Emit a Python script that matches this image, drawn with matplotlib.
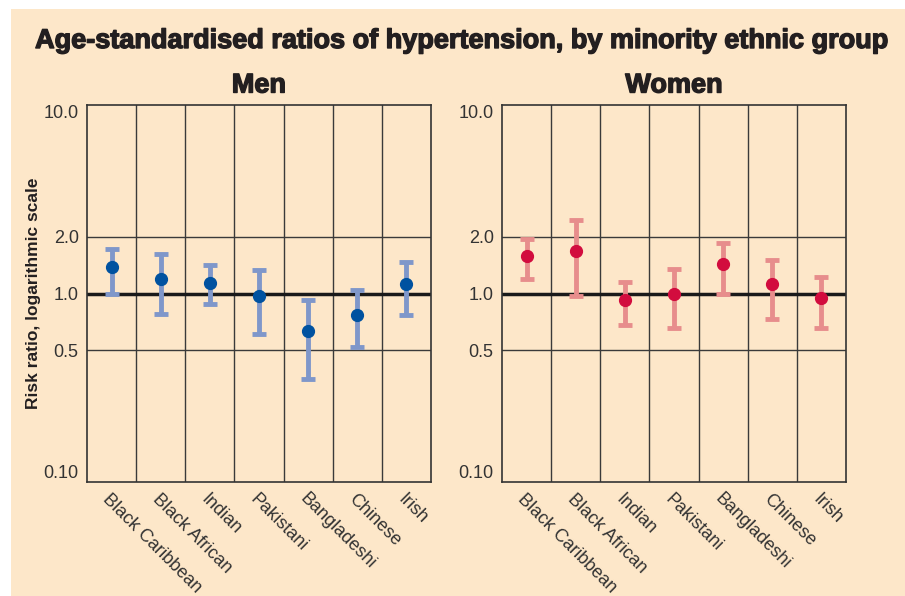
import numpy as np
import matplotlib.pyplot as plt
import matplotlib.patheffects as pe
from matplotlib.patches import Rectangle

groups = ['Black Caribbean', 'Black African', 'Indian', 'Pakistani',
          'Bangladeshi', 'Chinese', 'Irish']

# risk ratios with 95% interval
men_ratio = [1.375, 1.20, 1.14, 0.97, 0.63, 0.77, 1.12]
men_low = [0.99, 0.78, 0.88, 0.61, 0.35, 0.52, 0.77]
men_high = [1.72, 1.62, 1.42, 1.33, 0.92, 1.05, 1.47]

women_ratio = [1.58, 1.69, 0.92, 1.00, 1.44, 1.12, 0.95]
women_low = [1.19, 0.97, 0.68, 0.66, 1.00, 0.73, 0.66]
women_high = [1.94, 2.44, 1.15, 1.35, 1.85, 1.50, 1.22]

yticks = [0.1, 0.5, 1.0, 2.0, 10.0]
ytick_labels = ['0.10', '0.5', '1.0', '2.0', '10.0']

bg = '#fde7c9'
txt = '#231f20'
heavy = [pe.withStroke(linewidth=1.0, foreground=txt)]

fig = plt.figure(figsize=(9.05, 5.96), dpi=100, facecolor='white')
fig.patches.append(Rectangle((11 / 905, 0), 1, 587 / 596, transform=fig.transFigure,
                             facecolor=bg, edgecolor='none', zorder=-10))

fig.text(462 / 905, 1 - 41 / 596, 'Age-standardised ratios of hypertension, by minority ethnic group',
         ha='center', va='center', fontsize=19.5, fontweight='bold', color=txt,
         family='Liberation Sans', path_effects=heavy)


def panel(rect, title, ratio, low, high, bar_col, dot_col):
    ax = fig.add_axes(rect)
    ax.set_facecolor(bg)
    x = np.arange(len(groups))
    r = np.array(ratio)
    err = [r - np.array(low), np.array(high) - r]
    ax.errorbar(x, r, yerr=err, fmt='none', ecolor=bar_col, elinewidth=3.5,
                capsize=5, capthick=3.5, zorder=3)
    ax.plot(x, r, 'o', color=dot_col, markersize=8.5, zorder=4)
    ax.set_yscale('log')
    ax.set_ylim(0.1, 10)
    ax.set_xlim(-0.5, len(groups) - 0.5)
    ax.minorticks_off()
    ax.set_yticks(yticks)
    labs = ax.set_yticklabels(ytick_labels, fontsize=13, color='#333333',
                              family='Liberation Sans')
    labs[0].set_va('bottom')
    labs[-1].set_va('top')
    for v in (0.5, 2.0):
        ax.axhline(v, color='#3a3a3a', lw=1.0, zorder=1)
    ax.axhline(1.0, color='#1a1a1a', lw=2.5, zorder=2)
    for b in np.arange(0.5, len(groups) - 0.5):
        ax.axvline(b, color='#3a3a3a', lw=1.0, zorder=1)
    ax.set_xticks(x)
    ax.set_xticklabels(groups, rotation=-45, ha='left', va='top',
                       rotation_mode='anchor', fontsize=13, color='#333333',
                       family='Liberation Sans')
    ax.tick_params(length=0, pad=6)
    for s in ax.spines.values():
        s.set_color('#333333')
        s.set_linewidth(1.2)
    ax.set_title(title, fontsize=19.5, fontweight='bold', color=txt,
                 family='Liberation Sans', pad=9, path_effects=heavy)
    return ax


ax1 = panel([87 / 905, 114 / 596, 344 / 905, 377 / 596], 'Men',
            men_ratio, men_low, men_high, '#7f97ca', '#0052a0')
ax1.set_ylabel('Risk ratio, logarithmic scale', fontsize=12.5, fontweight='bold',
               color=txt, family='Liberation Sans')
ax1.yaxis.set_label_coords(-0.135, 0.5)
ax2 = panel([502 / 905, 114 / 596, 344 / 905, 377 / 596], 'Women',
            women_ratio, women_low, women_high, '#e78d8c', '#d20c3e')

fig.savefig('out.png', dpi=100, facecolor='white')
